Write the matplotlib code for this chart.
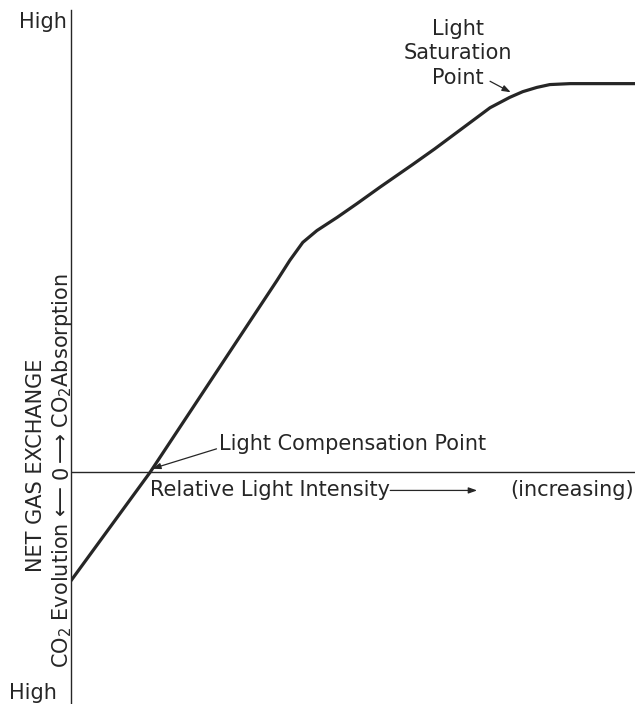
"""
Net gas exchange vs relative light intensity (light compensation / saturation sketch)
"""
import matplotlib
matplotlib.use("Agg")
import matplotlib.pyplot as plt

# values (relative units)
light = [0.0, 1.40, 3.65, 3.88, 4.11, 4.36, 4.72, 5.07, 5.48, 6.06, 6.45, 7.25, 7.43, 7.78,
         8.01, 8.26, 8.49, 8.85, 10.0]
gas = [-2.29, 0.0, 4.06, 4.49, 4.87, 5.12, 5.40, 5.69, 6.04, 6.52, 6.85, 7.56, 7.72, 7.94,
       8.06, 8.15, 8.21, 8.23, 8.23]

compensation_pt = (1.44, 0.08)
saturation_pt = (7.84, 8.02)

ink = "#262626"
fs = 15

fig = plt.figure(figsize=(6.35, 7.04), dpi=100)
ax = fig.add_axes([71 / 635, 0, 564 / 635, 1])
ax.set_xlim(0, 10)
ax.set_ylim(-4.9, 10)

ax.plot(light, gas, color=ink, lw=2.3, solid_capstyle="round", solid_joinstyle="round")

# axes: vertical spine + zero line
for s in ["top", "right", "bottom"]:
    ax.spines[s].set_visible(False)
ax.spines["left"].set_bounds(-4.9, 9.78)
ax.spines["left"].set_color(ink)
ax.spines["left"].set_linewidth(1.0)
ax.axhline(0, color=ink, lw=1.0)
ax.set_xticks([])
ax.set_yticks([])

# annotations
ax.text(2.62, 0.61, "Light Compensation Point", fontsize=fs, color=ink, ha="left", va="center")
ax.annotate("", xy=compensation_pt, xytext=(2.58, 0.50),
            arrowprops=dict(arrowstyle="-|>,head_length=0.5,head_width=0.18", color=ink, lw=0.9,
                            shrinkA=0, shrinkB=0))

ax.text(6.86, 8.87, "Light\nSaturation\nPoint", fontsize=fs, color=ink, ha="center", va="center",
        linespacing=1.3)
ax.annotate("", xy=saturation_pt, xytext=(7.43, 8.28),
            arrowprops=dict(arrowstyle="-|>,head_length=0.5,head_width=0.18", color=ink, lw=0.9,
                            shrinkA=0, shrinkB=2))

ax.text(1.40, -0.38, "Relative Light Intensity", fontsize=fs, color=ink, ha="left", va="center")
ax.annotate("", xy=(7.20, -0.38), xytext=(5.66, -0.38),
            arrowprops=dict(arrowstyle="-|>,head_length=0.5,head_width=0.18", color=ink, lw=0.9,
                            shrinkA=0, shrinkB=0))
ax.text(9.98, -0.38, "(increasing)", fontsize=fs, color=ink, ha="right", va="center")

# y axis labels
ax.text(-0.62, 0.15, "NET GAS EXCHANGE", fontsize=fs, color=ink, rotation=90,
        ha="center", va="center", clip_on=False)
ax.text(-0.16, 0, "0", fontsize=fs, color=ink, rotation=90, ha="center", va="center", clip_on=False)
ax.text(-0.16, -0.28, "CO$_2$ Evolution \u27f5", fontsize=fs, color=ink, rotation=90,
        rotation_mode="anchor", ha="right", va="center", clip_on=False)
ax.text(-0.16, 0.17, "\u27f6 CO$_2$Absorption", fontsize=fs, color=ink, rotation=90,
        rotation_mode="anchor", ha="left", va="center", clip_on=False)
ax.text(-0.07, 9.54, "High", fontsize=fs, color=ink, ha="right", va="center", clip_on=False)
ax.text(-0.25, -4.66, "High", fontsize=fs, color=ink, ha="right", va="center", clip_on=False)

fig.savefig("out.png", dpi=100)
